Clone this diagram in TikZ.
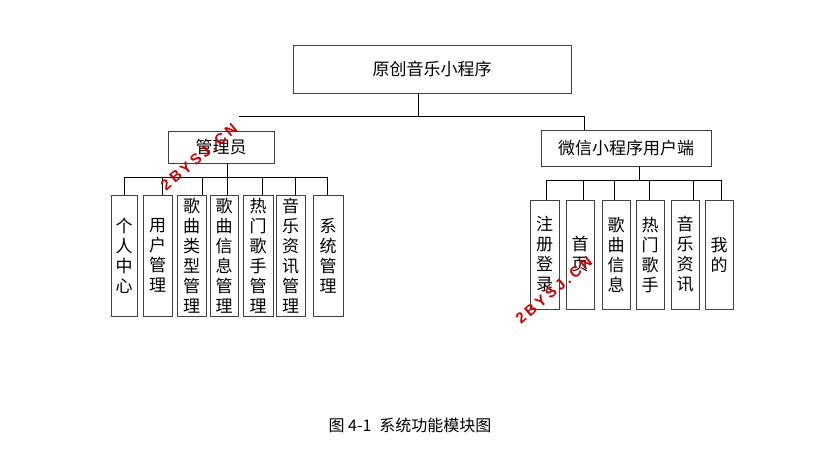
\documentclass[tikz,border=0pt]{standalone}
\usepackage{fontspec}
\newfontfamily\cjk{Noto Sans CJK SC}
\newfontfamily\wmfont{Liberation Sans}
\newcommand{\wmtext}{2\hspace{3pt}B\hspace{3pt}Y\hspace{3pt}S\hspace{3pt}J\hspace{3pt}.\hspace{3pt}C\hspace{3pt}N}
\begin{document}
\begin{tikzpicture}
[x=1pt,y=-1pt,
 box/.style={draw=black!75, line width=0.95pt, inner sep=0pt, font=\cjk\fontsize{17}{20}\selectfont},
 leaf/.style={box, align=center},
 wire/.style={black, line width=0.9pt},
 wmstyle/.style={text=red!80!black, font=\wmfont\bfseries\fontsize{15}{15}\selectfont, inner sep=0pt, rotate=40}]
\useasboundingbox (0,0) rectangle (836,456);
\node[box, minimum width=278pt, minimum height=48pt] (app) at (432,69) {原创音乐小程序};
\node[box, minimum width=106pt, minimum height=32pt] (admin) at (221,147) {管理员};
\node[box, minimum width=170pt, minimum height=36pt] (user) at (626,148) {微信小程序用户端};
% admin side
\foreach \n/\cx/\w/\s/\txt in {l1/124/26/124/个\\人\\中\\心, l2/157.5/29/162/用\\户\\管\\理,
  l3/191.5/29/202/歌\\曲\\类\\型\\管\\理, l4/224/28/227/歌\\曲\\信\\息\\管\\理,
  l5/258/30/262/热\\门\\歌\\手\\管\\理, l6/290.5/29/295/音\\乐\\资\\讯\\管\\理,
  l7/328/30/327/系\\统\\管\\理}
{
  \node[leaf, minimum width=\w pt, minimum height=121pt] (\n) at (\cx,255.5) {\txt};
  \coordinate (bus-\n) at (\s,177);
  \draw[wire] (bus-\n) -- (\s,0 |- \n.north);
}
% user side
\foreach \n/\cx/\w/\s/\txt in {r1/544.5/29/546/注\\册\\登\\录, r2/580/28/583/首\\页,
  r3/616/28/614/歌\\曲\\信\\息, r4/650/28/649/热\\门\\歌\\手,
  r5/685/28/693/音\\乐\\资\\讯, r6/719/28/721/我\\的}
{
  \node[leaf, minimum width=\w pt, minimum height=109pt] (\n) at (\cx,254.5) {\txt};
  \coordinate (bus-\n) at (\s,180);
  \draw[wire] (bus-\n) -- (\s,0 |- \n.north);
}
\draw[wire] (bus-l1) -- (bus-l7);
\draw[wire] (bus-r1) -- (bus-r6);
\draw[wire] (227,0 |- admin.south) -- (227,0 |- l4.north);
\draw[wire] (639,0 |- user.south) -- (639,180);
% top level
\coordinate (topl) at (239,116);
\coordinate (topr) at (584,116);
\draw[wire] (topl) -- (topr);
\draw[wire] (418,0 |- app.south) -- (418,116);
\draw[wire] (topr) -- (topr |- user.north);
\node[font=\cjk\fontsize{16}{16}\selectfont] (caption) at (410,425) {图 4-1\enspace 系统功能模块图};
% watermarks
\node[wmstyle] (wm1) at (199,157) {\wmtext};
\node[wmstyle] (wm2) at (554,290) {\wmtext};
\end{tikzpicture}
\end{document}
